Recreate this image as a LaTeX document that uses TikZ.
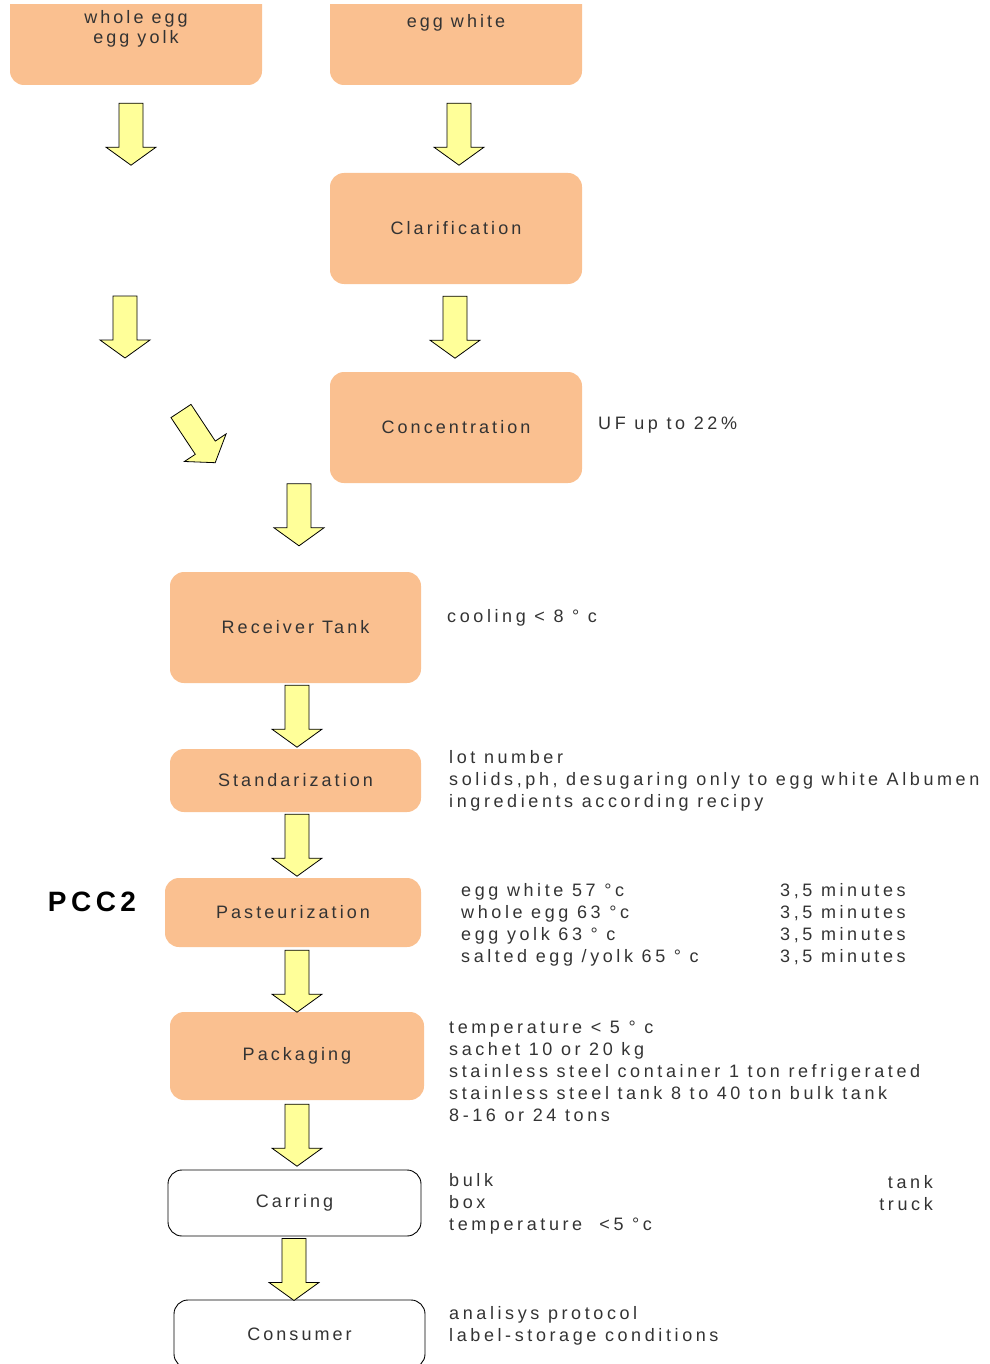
\documentclass[tikz,border=0pt]{standalone}
\usepackage{fontspec}
\setmainfont{Liberation Sans}[LetterSpace=20]
\newfontfamily\boxfont{Liberation Sans}[LetterSpace=17]
\newfontfamily\boldsp{Liberation Sans}[LetterSpace=16]
\usetikzlibrary{calc}

\definecolor{peach}{HTML}{FAC090}
\definecolor{paleyellow}{HTML}{FFFF99}
\definecolor{inkgray}{HTML}{333333}

\begin{document}
\begin{tikzpicture}[x=1pt, y=-1pt,
    box/.style={fill=peach, rounded corners=14pt, minimum width=252pt, text=inkgray, font=\boxfont\fontsize{18}{20}\selectfont, align=center},
    outbox/.style={box, fill=white, draw=black, line width=0.9pt},
    info/.style={anchor=west, align=left, inner sep=0pt, text=inkgray, font=\fontsize{18}{22}\selectfont},
    downarrow/.pic={\draw[fill=paleyellow, line width=0.8pt] (-12,0) -- (12,0) -- (12,44) -- (25,44) -- (0,62) -- (-25,44) -- (-12,44) -- cycle;}]
    \useasboundingbox (0,0) rectangle (989,1364);
    \clip (0,5) rectangle (989,1364);

    % process boxes
    \node[box, minimum height=112pt] (whole) at (136,29) {whole egg\\egg yolk};
    \node[box, minimum height=124pt] (white) at (456,23) {egg white};
    \node[box, minimum height=111pt] (clar) at (456,228.5) {Clarification};
    \node[box, minimum height=111pt] (conc) at (456,427.5) {Concentration};
    \node[box, minimum width=251pt, minimum height=111pt] (recv) at (295.5,627.5) {Receiver Tank};
    \node[box, minimum width=251pt, minimum height=63pt] (stand) at (295.5,780.5) {Standarization};
    \node[box, minimum width=256pt, minimum height=69pt] (past) at (293,912.5) {Pasteurization};
    \node[box, minimum width=254pt, minimum height=88pt] (pack) at (297,1056) {Packaging};
    \node[outbox, minimum width=253pt, minimum height=66pt] (carr) at (294.5,1203) {Carring};
    \node[outbox, minimum width=251pt, minimum height=68pt] (cons) at (299.5,1334) {Consumer};

    \node[font=\boldsp\bfseries\fontsize{28}{30}\selectfont, inner sep=0pt] (pcc) at (92,902) {PCC2};

    % notes
    \node[info] (uf) at (598,425) {UF up to 22\%};
    \node[info] (cool) at (447,618) {cooling < 8 ° c};
    \node[info] (lot) at (449,781) {lot number\\solids,ph, desugaring only to egg white Albumen\\ingredients according recipy};
    \node[info] (temps) at (461,924.5) {egg white 57 °c\\whole egg 63 °c\\egg yolk 63 ° c\\salted egg /yolk 65 ° c};
    \node[info] (times) at (780,924.5) {3,5 minutes\\3,5 minutes\\3,5 minutes\\3,5 minutes};
    \node[info] (packinfo) at (449,1071) {temperature < 5 ° c\\sachet 10 or 20 kg\\stainless steel container 1 ton refrigerated\\stainless steel tank 8 to 40 ton bulk tank\\8-16 or 24 tons};
    \node[info] (carrinfo) at (449,1204) {bulk\\box\\temperature \ <5 °c};
    \node[info, anchor=east, align=right] (vehicle) at (933,1193) {tank\\truck};
    \node[info] (consinfo) at (449,1325.5) {analisys protocol\\label-storage conditions};

    % arrows
    \coordinate (leftmid) at (125,296);
    \coordinate (bend) at (181,411);
    \pic at ($(whole.south)+(-5,18)$) {downarrow};
    \pic at ($(white.south)+(3,18)$) {downarrow};
    \pic at (leftmid) {downarrow};
    \pic at ($(clar.south)+(-1,12)$) {downarrow};
    \pic[rotate=33.5] at (bend) {downarrow};
    \pic at ($(recv.north)+(3.5,-88)$) {downarrow};
    \pic at ($(recv.south)+(1.5,2)$) {downarrow};
    \pic at ($(stand.south)+(1.5,2)$) {downarrow};
    \pic at ($(past.south)+(4,3)$) {downarrow};
    \pic at ($(pack.south)+(0,4)$) {downarrow};
    \pic at ($(carr.south)+(-0.5,2)$) {downarrow};
\end{tikzpicture}
\end{document}
